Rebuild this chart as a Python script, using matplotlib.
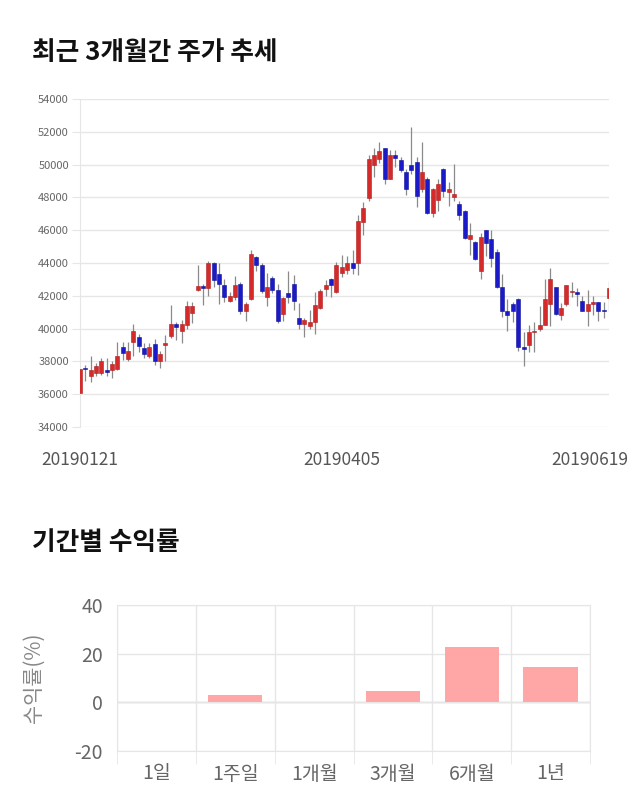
import matplotlib.pyplot as plt
import numpy as np
from matplotlib.transforms import ScaledTranslation

plt.rcParams['font.family'] = ['Noto Sans CJK KR', 'DejaVu Sans']
plt.rcParams['axes.unicode_minus'] = False

# daily candles (KRW)
opens = [36100, 37600, 37100, 37300, 37300, 37500, 37500, 37550, 38900, 38150,
         39200, 39500, 38800, 38300, 39050, 38050, 39000, 39550, 40300, 39850,
         40200, 40950, 42350, 42600, 42450, 44000, 43300, 42650, 41700, 41950,
         42750, 41050, 41800, 44350, 43850, 41950, 43100, 42350, 40900, 42150,
         42700, 40650, 40300, 40150, 40400, 41250, 42400, 43050, 42250, 43400,
         43550, 44000, 44000, 46500, 47950, 50000, 50350, 51000, 49150, 50600,
         50250, 49550, 50000, 50150, 48500, 49150, 47050, 47850, 49750, 48300,
         48050, 47600, 47200, 45450, 45250, 43500, 46000, 45450, 44650, 42550,
         41050, 41500, 41800, 38850, 39000, 39800, 39950, 40250, 41500, 42550,
         40800, 41500, 42250, 42250, 41700, 41050, 41500, 41600, 41100, 41850]
closes = [37550, 37550, 37500, 37700, 38050, 37350, 37850, 38350, 38500, 38650,
          39850, 38950, 38450, 38850, 38050, 38450, 39100, 40300, 40100, 40250,
          41400, 41400, 42600, 42450, 44000, 42950, 42750, 41900, 42000, 42650,
          41050, 41500, 44550, 43850, 42300, 42550, 42350, 40450, 41850, 41950,
          41700, 40300, 40500, 40400, 41450, 42300, 42650, 42650, 43850, 43750,
          44000, 43700, 46550, 47350, 50350, 50600, 50800, 49150, 50600, 50400,
          49650, 48500, 49700, 48100, 49550, 47050, 48500, 48800, 48400, 48500,
          48200, 46900, 45500, 45700, 44250, 45600, 45250, 44300, 42550, 41050,
          40850, 41100, 38850, 38750, 39800, 39850, 40200, 41800, 43000, 40900,
          41250, 42650, 42300, 42100, 41100, 41500, 41600, 41050, 41050, 42450]
highs = [37600, 37800, 38350, 37900, 38200, 38200, 38000, 39200, 39200, 39200,
         40300, 39650, 39100, 39150, 39350, 38650, 39600, 41450, 40400, 40500,
         41700, 41650, 43900, 42750, 44150, 44050, 44000, 43000, 42250, 43200,
         42850, 41600, 44800, 44400, 44000, 43400, 43200, 42750, 41950, 43500,
         43250, 41550, 40650, 41150, 42250, 42400, 42950, 43100, 44050, 44500,
         44400, 44800, 46900, 47750, 50600, 51000, 51400, 51000, 50900, 50900,
         50450, 49750, 52300, 50450, 51350, 49250, 48600, 49150, 49800, 48950,
         50050, 47800, 47250, 46450, 45350, 45800, 46000, 46000, 44850, 43300,
         41800, 41600, 41850, 39800, 40200, 40400, 41350, 43000, 43700, 42550,
         41550, 42650, 42850, 42500, 42000, 42350, 42000, 41600, 41600, 42900]
lows = [36050, 36800, 36750, 37100, 37150, 37100, 37000, 37500, 38100, 38000,
        38350, 38600, 38200, 38200, 37800, 37600, 38050, 39400, 39300, 39150,
        39950, 40350, 42300, 41450, 42000, 42550, 41500, 41650, 41650, 41750,
        40900, 40450, 41750, 43500, 42150, 41400, 42150, 40350, 40450, 41550,
        41150, 39950, 39500, 39950, 39650, 41200, 42000, 41950, 42200, 43150,
        43350, 43300, 43250, 45700, 47800, 49250, 50100, 48800, 49150, 49850,
        49550, 48150, 49400, 47400, 48350, 47000, 46800, 47150, 48000, 47450,
        47800, 46600, 45450, 44500, 44200, 43000, 44400, 43750, 42450, 40700,
        39850, 40400, 38650, 37700, 38550, 38550, 39850, 40200, 40150, 40800,
        40500, 41350, 41900, 41350, 41100, 40150, 40850, 40450, 40650, 41100]
date_ticks = [0, 49, 99]
date_labels = ['20190121', '20190405', '20190619']

# returns by period (%)
periods = ['1일', '1주일', '1개월', '3개월', '6개월', '1년']
returns = [0.0, 2.9, 0.1, 4.5, 22.8, 14.4]

grid_c = '#e6e6e6'
fig = plt.figure(figsize=(6.4, 8.1), dpi=100)

# ---- candlestick chart ----
fig.text(32 / 640, 1 - 52 / 810, '최근 3개월간 주가 추세', fontsize=18.5,
         fontweight='bold', va='center', ha='left', color='#111111')

ax = fig.add_axes([80 / 640, (810 - 427) / 810, 529 / 640, 328 / 810])
o = np.array(opens)
c = np.array(closes)
x = np.arange(len(o))
up = c >= o
cols = np.where(up, '#d42a2a', '#1a1ac8')
edges = np.where(up, '#b01c1c', '#10109a')
ax.vlines(x, lows, highs, color='#8a8a8a', lw=0.9, zorder=2)
ax.bar(x, np.maximum(np.abs(c - o), 70), bottom=np.minimum(o, c), width=0.75,
       color=cols, edgecolor=edges, lw=0.4, zorder=3)
ax.set_xlim(0, len(o) - 1)
ax.set_ylim(34000, 54000)
ax.set_yticks(range(34000, 54001, 2000))
ax.grid(axis='y', color=grid_c, lw=1, zorder=0)
for s in ['top', 'right', 'bottom']:
    ax.spines[s].set_visible(False)
ax.spines['left'].set_color(grid_c)
ax.tick_params(axis='y', length=6, color=grid_c, labelsize=8,
               labelcolor='#666666', pad=2)
ax.set_xticks(date_ticks)
ax.set_xticklabels(date_labels)
ax.tick_params(axis='x', length=0, labelsize=12.5, labelcolor='#555555', pad=17)
last = ax.get_xticklabels()[-1]
last.set_transform(last.get_transform() + ScaledTranslation(-0.19, 0, fig.dpi_scale_trans))

# ---- period returns ----
fig.text(32 / 640, 1 - 543 / 810, '기간별 수익률', fontsize=18.5,
         fontweight='bold', va='center', ha='left', color='#111111')

ax2 = fig.add_axes([117 / 640, (810 - 751) / 810, 473 / 640, 146 / 810])
ax2.bar(range(len(periods)), returns, width=0.69, color='#ffa6a6',
        edgecolor='none', zorder=3)
ax2.set_xlim(-0.5, len(periods) - 0.5)
ax2.set_ylim(-20, 40)
ax2.set_yticks([-20, 0, 20, 40])
ax2.set_xticks(range(len(periods)))
ax2.set_xticklabels(periods)
ax2.set_xticks(np.arange(-0.5, len(periods), 1), minor=True)
ax2.grid(axis='y', color=grid_c, lw=1, zorder=0)
ax2.grid(axis='x', which='minor', color=grid_c, lw=1, zorder=0)
ax2.axhline(0, color='#c8c8c8', lw=1, zorder=1)
for s in ax2.spines.values():
    s.set_color(grid_c)
ax2.tick_params(axis='x', which='major', length=0, labelsize=14,
                labelcolor='#666666', pad=9)
ax2.tick_params(axis='x', which='minor', length=9, color=grid_c)
ax2.tick_params(axis='y', length=0, labelsize=14, labelcolor='#666666', pad=10)
ax2.set_ylabel('수익률(%)', fontsize=15, color='#888888')
ax2.yaxis.set_label_coords(-0.152, 0.5)

fig.savefig('out.png', dpi=100)
